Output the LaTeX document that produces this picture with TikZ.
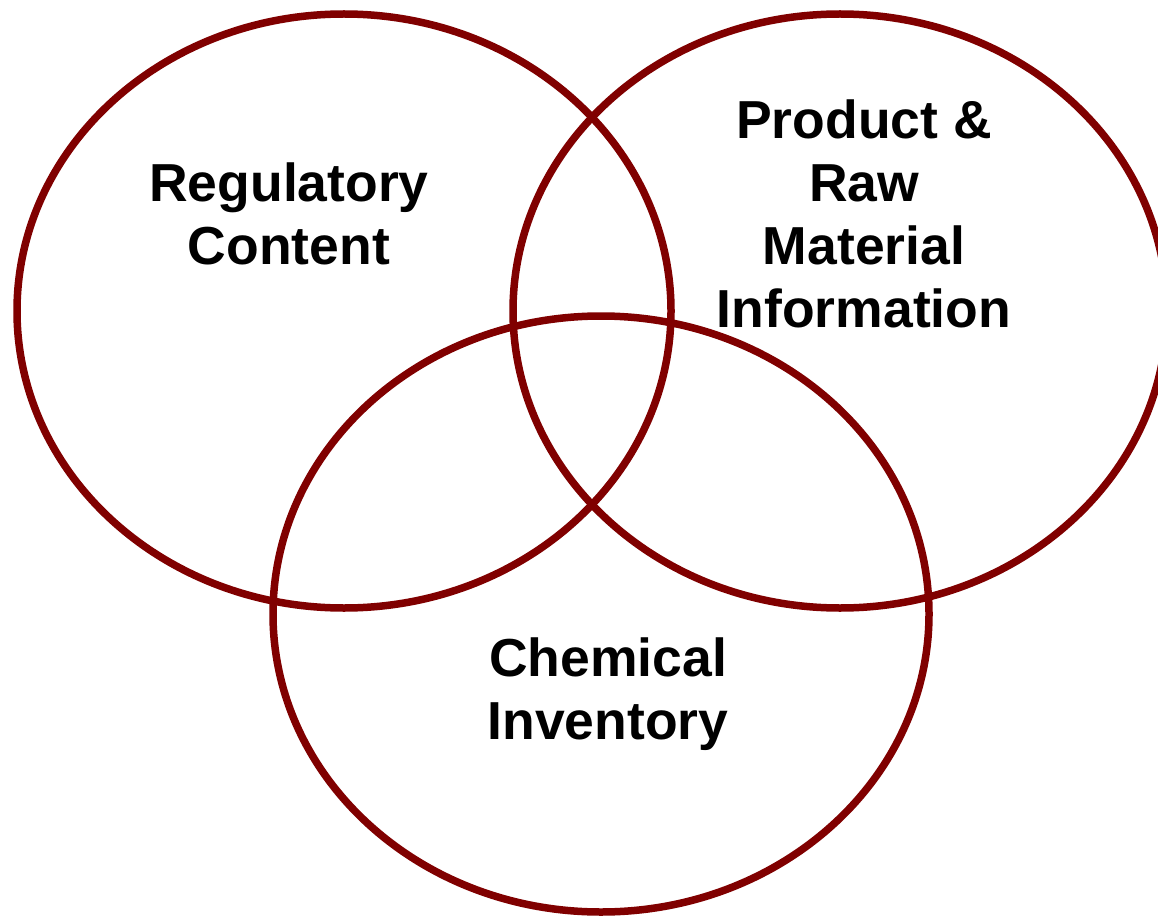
\documentclass[tikz,border=0pt]{standalone}
\usepackage{fontspec}
\setmainfont{Liberation Sans}
\definecolor{ring}{HTML}{800000}
\tikzset{
  ringline/.style={draw=ring, line width=7.5pt},
  label/.style={align=center, font=\fontsize{53.5}{63}\selectfont\bfseries, inner sep=0pt}
}
\begin{document}
\begin{tikzpicture}[x=1pt,y=-1pt]
\useasboundingbox (0,0) rectangle (1158,917);
\begin{scope}
\clip (0,0) rectangle (1158,917);
\draw[ringline] (344,311) ellipse [x radius=327, y radius=297];
\draw[ringline] (840,311) ellipse [x radius=327, y radius=297];
\draw[ringline] (601,614) ellipse [x radius=328, y radius=298];
\end{scope}
\node[label] (reg) at (289,214) {Regulatory\\Content};
\node[label] (prod) at (864,214) {Product \&\\Raw\\Material\\Information};
\node[label] (chem) at (608,694) {Chemical\\Inventory};
\end{tikzpicture}
\end{document}
